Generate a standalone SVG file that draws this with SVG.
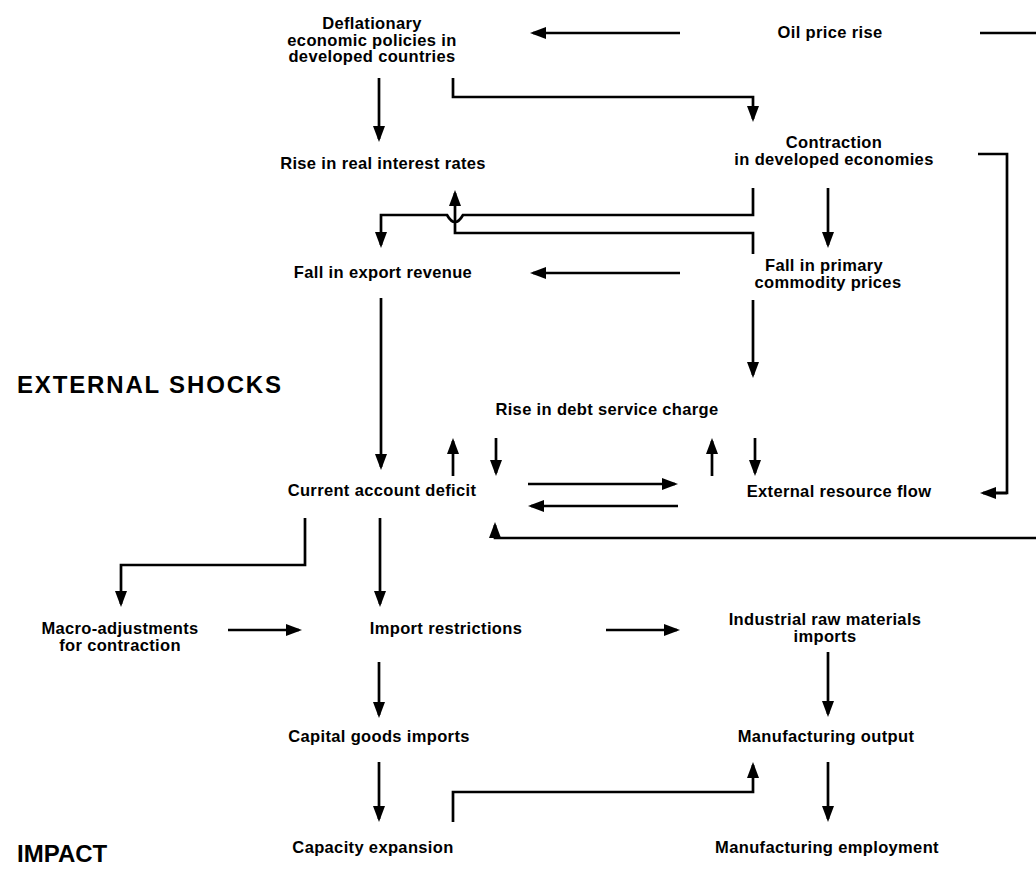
<svg xmlns="http://www.w3.org/2000/svg" width="1036" height="872" viewBox="0 0 1036 872">
  <defs>
    <marker id="arrow" markerUnits="userSpaceOnUse" markerWidth="16" markerHeight="12" refX="13" refY="6" orient="auto">
      <path d="M0,0 L16,6 L0,12 z" fill="#000"/>
    </marker>
    <style>
      .label { font-family: "Liberation Sans", Arial, sans-serif; font-weight: bold; font-size: 16.5px; letter-spacing: 0.35px; text-anchor: middle; fill: #000; }
      .heading { font-family: "Liberation Sans", Arial, sans-serif; font-weight: bold; font-size: 24px; fill: #000; }
      .link { fill: none; stroke: #000; stroke-width: 2.7; }
      .arr { marker-end: url(#arrow); }
    </style>
  </defs>
  <rect width="1036" height="872" fill="#fff"/>

  <!-- section headings -->
  <text class="heading" x="17" y="393" textLength="264">EXTERNAL SHOCKS</text>
  <text class="heading" x="17" y="862">IMPACT</text>

  <!-- nodes -->
  <g id="deflationary-policies">
    <text class="label" x="372" y="29">Deflationary</text>
    <text class="label" x="372" y="46">economic policies in</text>
    <text class="label" x="372" y="62">developed countries</text>
  </g>
  <g id="oil-price-rise">
    <text class="label" x="830" y="38">Oil price rise</text>
  </g>
  <g id="real-interest-rates">
    <text class="label" x="383" y="169">Rise in real interest rates</text>
  </g>
  <g id="contraction">
    <text class="label" x="834" y="148">Contraction</text>
    <text class="label" x="834" y="165">in developed economies</text>
  </g>
  <g id="export-revenue">
    <text class="label" x="383" y="278">Fall in export revenue</text>
  </g>
  <g id="commodity-prices">
    <text class="label" x="824" y="271">Fall in primary</text>
    <text class="label" x="828" y="288">commodity prices</text>
  </g>
  <g id="debt-service">
    <text class="label" x="607" y="415">Rise in debt service charge</text>
  </g>
  <g id="current-account">
    <text class="label" x="382" y="496">Current account deficit</text>
  </g>
  <g id="resource-flow">
    <text class="label" x="839" y="497">External resource flow</text>
  </g>
  <g id="macro-adjustments">
    <text class="label" x="120" y="634">Macro-adjustments</text>
    <text class="label" x="120" y="651">for contraction</text>
  </g>
  <g id="import-restrictions">
    <text class="label" x="446" y="634">Import restrictions</text>
  </g>
  <g id="raw-materials">
    <text class="label" x="825" y="625">Industrial raw materials</text>
    <text class="label" x="825" y="642">imports</text>
  </g>
  <g id="capital-goods">
    <text class="label" x="379" y="742">Capital goods imports</text>
  </g>
  <g id="manufacturing-output">
    <text class="label" x="826" y="742">Manufacturing output</text>
  </g>
  <g id="capacity-expansion">
    <text class="label" x="373" y="853">Capacity expansion</text>
  </g>
  <g id="manufacturing-employment">
    <text class="label" x="827" y="853">Manufacturing employment</text>
  </g>

  <!-- connectors -->
  <g id="connectors">
    <!-- oil price rise -->
    <path class="link arr" d="M680,33 H533"/>
    <path class="link" d="M980,33 H1036"/>
    <path class="link arr" d="M1036,538 H495 V525"/>
    <!-- deflationary policies -->
    <path class="link arr" d="M379,78 V139"/>
    <path class="link arr" d="M453,78 V97 H753 V119"/>
    <!-- contraction -->
    <path class="link arr" d="M753,188 V215 H463 Q455,229 447,215 H381 V245"/>
    <path class="link arr" d="M828,188 V245"/>
    <path class="link" d="M978,154 H1007 V493 H993"/>
    <path class="link arr" d="M1007,493 H983"/>
    <!-- commodity prices -->
    <path class="link arr" d="M753,254 V233 H455 V193"/>
    <path class="link arr" d="M680,273 H533"/>
    <path class="link arr" d="M753,300 V375"/>
    <!-- export revenue -->
    <path class="link arr" d="M381,298 V467"/>
    <!-- debt service / current account / resource flow -->
    <path class="link arr" d="M453,476 V441"/>
    <path class="link arr" d="M496,438 V473"/>
    <path class="link arr" d="M712,476 V441"/>
    <path class="link arr" d="M755,438 V473"/>
    <path class="link arr" d="M528,484 H675"/>
    <path class="link arr" d="M678,506 H531"/>
    <!-- current account deficit -->
    <path class="link arr" d="M305,518 V565 H121 V604"/>
    <path class="link arr" d="M380,518 V604"/>
    <!-- adjustments and restrictions -->
    <path class="link arr" d="M228,630 H299"/>
    <path class="link arr" d="M606,630 H677"/>
    <path class="link arr" d="M828,652 V714"/>
    <path class="link arr" d="M379,662 V715"/>
    <path class="link arr" d="M379,762 V819"/>
    <path class="link arr" d="M453,822 V792 H753 V765"/>
    <path class="link arr" d="M828,762 V819"/>
  </g>
</svg>
